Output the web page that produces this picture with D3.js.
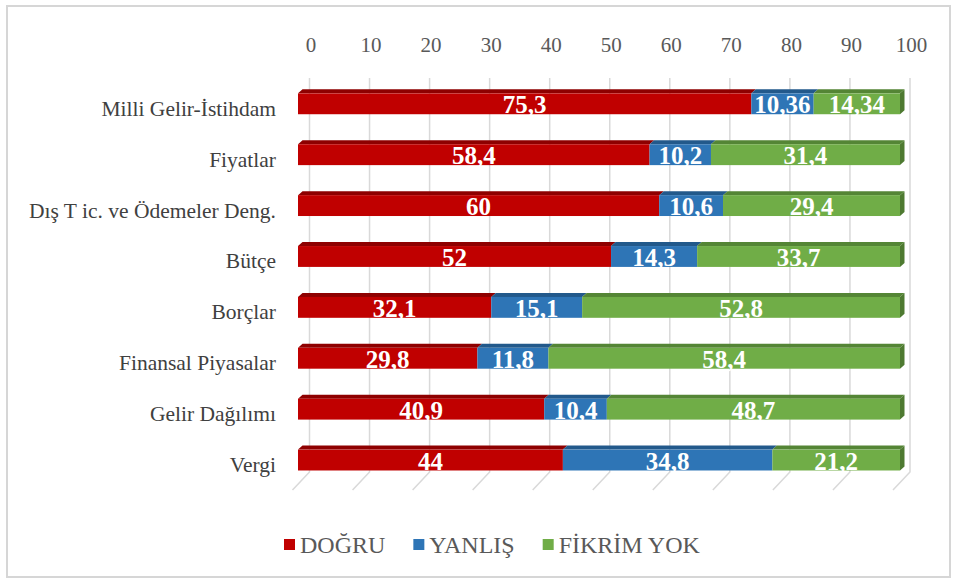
<!DOCTYPE html>
<html>
<head>
<meta charset="utf-8">
<script src="https://cdn.jsdelivr.net/npm/d3@7"></script>
<style>
  html, body { margin: 0; padding: 0; background: #ffffff; }
  svg { display: block; }
  svg text { font-family: "Liberation Serif", "Times New Roman", serif; }
</style>
</head>
<body>
<div id="chart"></div>
<script>
// categories top to bottom
const categories = ["Milli Gelir-İstihdam", "Fiyatlar", "Dış T ic. ve Ödemeler Deng.", "Bütçe",
  "Borçlar", "Finansal Piyasalar", "Gelir Dağılımı", "Vergi"];
const dogru = [75.3, 58.4, 60, 52, 32.1, 29.8, 40.9, 44];
const yanlis = [10.36, 10.2, 10.6, 14.3, 15.1, 11.8, 10.4, 34.8];
const fikrimYok = [14.34, 31.4, 29.4, 33.7, 52.8, 58.4, 48.7, 21.2];
const seriesNames = ["DOĞRU", "YANLIŞ", "FİKRİM YOK"];
const xTicks = [0, 10, 20, 30, 40, 50, 60, 70, 80, 90, 100];

const width = 957, height = 583;

// colours: front, top, side
const palette = [
  { front: "#c00000", top: "#8e0000", side: "#8e0000" },
  { front: "#2e75b6", top: "#22598b", side: "#22598b" },
  { front: "#70ad47", top: "#548535", side: "#4e7a31" }
];

const svg = d3.select("#chart").append("svg")
  .attr("width", width)
  .attr("height", height);

// outer frame
svg.append("rect")
  .attr("x", 7).attr("y", 6)
  .attr("width", 943).attr("height", 571)
  .attr("fill", "#fff")
  .attr("stroke", "#d6d6d6")
  .attr("stroke-width", 2);

// front plane scale (bars) and back wall scale (gridlines / ticks)
const xFront = d3.scaleLinear().domain([0, 100]).range([298, 900]);
const xBack = d3.scaleLinear().domain([0, 100]).range([309.5, 910]);
const depthX = 4.5, depthY = 4;

const y = d3.scaleBand()
  .domain(categories)
  .range([78.35, 485.5])
  .paddingInner(0.59)
  .paddingOuter(0.295);

const wallTop = 78, wallBottom = 472, floorDx = -17, floorDy = 18;

// gridlines: back wall + floor slant
const grid = svg.append("g").attr("class", "grid");
grid.selectAll("path")
  .data(xTicks)
  .enter()
  .append("path")
  .attr("d", d => `M${xBack(d)},${wallTop}V${wallBottom}l${floorDx},${floorDy}`)
  .attr("fill", "none")
  .attr("stroke", "#d9d9d9")
  .attr("stroke-width", 1.5);

// top axis labels
const axis = d3.axisTop(xBack).tickValues(xTicks).tickSize(0).tickPadding(0);
const axisG = svg.append("g")
  .attr("transform", "translate(0,52)")
  .call(axis);
axisG.attr("font-family", null).attr("font-size", null);
axisG.select(".domain").remove();
axisG.selectAll("text")
  .attr("dy", 0)
  .attr("x", 1)
  .style("font-size", "21px")
  .style("fill", "#595959");

// category labels
svg.append("g").selectAll("text")
  .data(categories)
  .enter()
  .append("text")
  .attr("x", 276)
  .attr("y", d => y(d) + y.bandwidth() / 2 + 12)
  .attr("text-anchor", "end")
  .style("font-size", "21.5px")
  .style("fill", "#404040")
  .text(d => d);

// stacked data
const rows = categories.map((c, i) => ({ cat: c, v: [dogru[i], yanlis[i], fikrimYok[i]] }));
const segments = [];
rows.forEach(r => {
  let acc = 0;
  r.v.forEach((val, k) => {
    segments.push({ cat: r.cat, k, x0: acc, x1: acc + val, val, last: k === 2 });
    acc += val;
  });
});

const bars = svg.append("g");
const bh = y.bandwidth();

// top faces
bars.selectAll("path.top")
  .data(segments)
  .enter()
  .append("path")
  .attr("class", "top")
  .attr("d", d => {
    const a = xFront(d.x0), b = xFront(d.x1), t = y(d.cat);
    return `M${a},${t}L${a + depthX},${t - depthY}L${b + depthX},${t - depthY}L${b},${t}Z`;
  })
  .attr("fill", d => palette[d.k].top);

// side face at the end of each bar
bars.selectAll("path.side")
  .data(segments.filter(d => d.last))
  .enter()
  .append("path")
  .attr("class", "side")
  .attr("d", d => {
    const b = xFront(d.x1), t = y(d.cat);
    return `M${b},${t}L${b + depthX},${t - depthY}L${b + depthX},${t - depthY + bh}L${b},${t + bh}Z`;
  })
  .attr("fill", d => palette[d.k].side);

// front faces
bars.selectAll("rect")
  .data(segments)
  .enter()
  .append("rect")
  .attr("x", d => xFront(d.x0))
  .attr("y", d => y(d.cat))
  .attr("width", d => xFront(d.x1) - xFront(d.x0))
  .attr("height", bh)
  .attr("fill", d => palette[d.k].front);

// value labels
const fmt = v => String(v).replace(".", ",");
bars.selectAll("text")
  .data(segments)
  .enter()
  .append("text")
  .attr("x", d => (xFront(d.x0) + xFront(d.x1)) / 2)
  .attr("y", d => y(d.cat) + bh / 2 + 9.5)
  .attr("text-anchor", "middle")
  .style("font-size", "25px")
  .style("font-weight", "bold")
  .style("fill", "#ffffff")
  .text(d => fmt(d.val));

// legend
const legend = svg.append("g");
let lx = 284;
seriesNames.forEach((name, k) => {
  legend.append("rect")
    .attr("x", lx).attr("y", 539)
    .attr("width", 11).attr("height", 11)
    .attr("fill", palette[k].front);
  const t = legend.append("text")
    .attr("x", lx + 16)
    .attr("y", 553)
    .style("font-size", "24px")
    .style("fill", "#595959")
    .text(name);
  lx += 16 + t.node().getComputedTextLength() + 28;
});
</script>
</body>
</html>
